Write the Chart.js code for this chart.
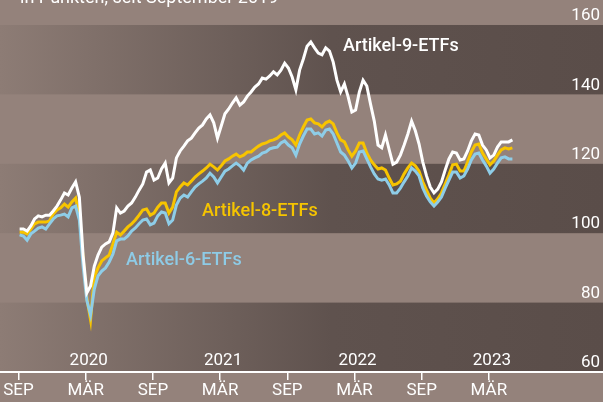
<!DOCTYPE html>
<html>
<head>
<meta charset="utf-8">
<script src="https://cdn.jsdelivr.net/npm/chart.js@4.4.0/dist/chart.umd.min.js"></script>
<style>
  html, body { margin: 0; padding: 0; background: #94827b; }
  #wrap { width: 603px; height: 402px; }
</style>
</head>
<body>
<div id="wrap"><canvas id="chart" width="603" height="402"></canvas></div>
<script>
/* Zeitachse: Monate seit Anfang September 2019, ein Wert alle 1/3 Monat */
var startMonat = 0.1;
var schritt = 1 / 3;

/* Indexwerte in Punkten */
var artikel9 = [
  101.2, 101.2, 100.6, 102.1, 104.1, 105.0, 104.7, 105.2, 105.2, 106.4,
  107.8, 109.6, 111.6, 111.0, 113.0, 114.8, 110.4, 93.7, 82.8, 84.8,
  90.5, 93.7, 96.0, 96.9, 97.5, 100.1, 107.3, 105.8, 106.4, 107.8,
  108.7, 110.4, 112.4, 114.2, 117.6, 118.2, 115.3, 115.9, 118.5, 120.2,
  114.5, 115.9, 121.7, 123.7, 125.1, 126.6, 127.4, 128.9, 130.3, 131.2,
  132.9, 134.1, 131.8, 127.4, 130.9, 134.4, 135.8, 137.5, 139.0, 136.9,
  137.8, 139.5, 140.7, 142.1, 143.0, 144.7, 144.4, 145.3, 146.5, 145.6,
  147.0, 149.0, 147.6, 145.0, 141.3, 147.0, 150.2, 153.9, 155.1, 153.4,
  151.9, 151.4, 153.4, 152.5, 149.3, 144.1, 140.7, 143.0, 139.3, 134.9,
  135.5, 140.7, 144.1, 142.4, 137.2, 132.3, 125.4, 124.6, 128.3, 124.0,
  119.9, 120.5, 122.5, 125.4, 128.6, 132.3, 129.5, 125.7, 120.5, 116.5,
  113.3, 111.6, 112.7, 114.8, 118.2, 121.4, 123.4, 123.1, 121.1, 121.4,
  123.7, 126.6, 128.6, 128.3, 125.4, 124.0, 121.7, 122.5, 124.8, 126.3,
  126.3, 126.3, 126.9
];
var artikel8 = [
  100.3, 100.3, 99.8, 101.2, 102.7, 103.2, 103.2, 103.2, 103.5, 105.5,
  106.7, 107.3, 108.4, 107.5, 109.0, 110.1, 105.2, 92.9, 81.3, 75.0,
  87.4, 90.0, 92.0, 92.9, 93.7, 96.9, 100.3, 99.5, 100.6, 101.8,
  102.7, 103.8, 105.2, 106.7, 107.0, 105.2, 105.8, 107.5, 108.7, 108.7,
  105.8, 107.5, 111.9, 113.3, 114.5, 113.9, 115.0, 116.2, 117.1, 117.9,
  118.8, 119.9, 119.1, 118.2, 119.4, 120.8, 121.4, 122.2, 122.8, 122.0,
  122.5, 123.4, 123.4, 124.3, 125.1, 125.7, 126.0, 126.6, 126.9, 127.4,
  128.3, 128.9, 127.7, 126.9, 125.4, 128.3, 130.6, 132.6, 132.9, 131.8,
  131.5, 130.6, 131.8, 132.3, 131.5, 128.9, 126.9, 126.3, 124.0, 122.2,
  123.7, 126.0, 126.0, 123.1, 121.1, 119.7, 118.5, 118.8, 118.2, 115.9,
  113.9, 114.2, 115.0, 117.1, 118.8, 120.2, 119.4, 117.9, 114.8, 112.4,
  110.1, 108.7, 109.9, 111.6, 114.2, 116.8, 119.7, 119.9, 117.9, 117.9,
  120.5, 123.4, 125.4, 125.7, 123.1, 121.4, 119.7, 120.8, 122.5, 124.0,
  124.6, 124.3, 124.6
];
var artikel6 = [
  99.5, 99.2, 98.0, 99.8, 100.6, 101.5, 101.8, 101.2, 102.7, 104.1,
  105.0, 105.2, 105.5, 104.7, 107.3, 107.8, 103.8, 90.5, 80.7, 76.4,
  83.9, 87.7, 89.1, 90.0, 91.7, 94.0, 97.8, 98.3, 98.3, 99.2,
  100.6, 101.5, 102.7, 103.8, 104.1, 102.4, 102.9, 105.0, 106.1, 105.8,
  102.7, 103.8, 108.1, 110.1, 111.0, 110.4, 111.9, 113.3, 114.2, 115.0,
  115.9, 117.3, 116.2, 114.5, 116.2, 117.9, 118.5, 119.4, 120.2, 119.4,
  118.2, 120.2, 121.1, 121.7, 122.2, 123.1, 123.4, 124.3, 124.6, 124.8,
  126.0, 126.6, 125.4, 124.6, 122.5, 125.7, 128.0, 130.0, 130.0, 128.6,
  128.9, 128.0, 129.7, 130.0, 128.6, 126.0, 123.4, 122.5, 120.8, 118.8,
  120.2, 123.4, 123.7, 121.4, 119.1, 117.1, 115.6, 115.3, 115.6, 113.9,
  111.6, 111.6, 113.0, 114.8, 116.5, 118.8, 117.9, 116.5, 113.0, 110.7,
  109.0, 107.8, 109.0, 110.4, 113.0, 115.3, 117.6, 117.6, 115.9, 116.5,
  118.5, 121.1, 122.8, 123.1, 121.1, 119.4, 117.3, 118.5, 120.2, 121.7,
  122.0, 121.4, 121.4
];

var yTicks = [60, 80, 100, 120, 140, 160];
var monatTicks = [0, 6, 12, 18, 24, 30, 36, 42];
var monatLabels = ['SEP', 'MÄR', 'SEP', 'MÄR', 'SEP', 'MÄR', 'SEP', 'MÄR'];
var jahrTicks = [6, 18, 30, 42];
var jahrLabels = ['2020', '2021', '2022', '2023'];
var namen = ['Artikel-9-ETFs', 'Artikel-8-ETFs', 'Artikel-6-ETFs'];
var titel = 'in Punkten, seit September 2019';

var schrift = "Roboto, 'Noto Sans', sans-serif";
var hell = '#94827b';

function punkte(werte) {
  return werte.map(function (v, i) {
    return { x: startMonat + i * schritt, y: v };
  });
}

/* Hintergrund mit Streifen */
var streifen = {
  id: 'streifen',
  beforeDraw: function (chart) {
    var ctx = chart.ctx, y = chart.scales.y;
    ctx.save();
    ctx.fillStyle = hell;
    ctx.fillRect(0, 0, chart.width, chart.height);
    var grad = ctx.createLinearGradient(0, 0, chart.width, 0);
    grad.addColorStop(0, '#8d7c75');
    grad.addColorStop(0.55, '#5f524e');
    grad.addColorStop(1, '#5a4d49');
    ctx.fillStyle = grad;
    [[60, 80], [100, 120], [140, 160]].forEach(function (b) {
      var top = y.getPixelForValue(b[1]);
      var bot = y.getPixelForValue(b[0]);
      ctx.fillRect(0, top, chart.width, bot - top);
    });
    ctx.restore();
  }
};

/* Texte: Titel, Jahre, Reihennamen */
var texte = {
  id: 'texte',
  afterDraw: function (chart) {
    var ctx = chart.ctx, x = chart.scales.x, y = chart.scales.y;
    ctx.save();
    ctx.fillStyle = '#ffffff';
    ctx.font = '18px ' + schrift;
    ctx.textAlign = 'left';
    ctx.textBaseline = 'alphabetic';
    ctx.fillText(titel, 20, 3);

    ctx.font = '17px ' + schrift;
    ctx.textAlign = 'center';
    ctx.textBaseline = 'middle';
    jahrTicks.forEach(function (m, i) {
      ctx.fillText(jahrLabels[i], x.getPixelForValue(m) + 3, y.bottom - 11);
    });

    ctx.font = '500 18px ' + schrift;
    ctx.textAlign = 'left';
    ctx.fillStyle = '#ffffff';
    ctx.fillText(namen[0], 343, 46);
    ctx.fillStyle = '#f5c400';
    ctx.fillText(namen[1], 202, 211);
    ctx.fillStyle = '#8ecbe6';
    ctx.fillText(namen[2], 126, 260);
    ctx.restore();
  }
};

new Chart(document.getElementById('chart'), {
  type: 'line',
  data: {
    datasets: [
      { label: namen[0], data: punkte(artikel9), borderColor: '#ffffff', borderWidth: 3 },
      { label: namen[2], data: punkte(artikel6), borderColor: '#8ecde8', borderWidth: 3 },
      { label: namen[1], data: punkte(artikel8), borderColor: '#f7c400', borderWidth: 3 }
    ]
  },
  options: {
    responsive: false,
    animation: false,
    devicePixelRatio: 1,
    layout: { padding: 0 },
    elements: { point: { radius: 0 }, line: { tension: 0 } },
    plugins: { legend: { display: false }, tooltip: { enabled: false } },
    scales: {
      x: {
        type: 'linear',
        min: -1.652,
        max: 52.19,
        afterBuildTicks: function (s) { s.ticks = monatTicks.map(function (v) { return { value: v }; }); },
        afterFit: function (s) { s.height = 30; s.paddingLeft = 0; s.paddingRight = 0; },
        ticks: {
          autoSkip: false,
          maxRotation: 0,
          padding: 1,
          color: '#ffffff',
          font: { family: schrift, size: 17 },
          callback: function (v, i) { return monatLabels[i]; }
        },
        grid: { drawOnChartArea: false, drawTicks: true, tickLength: 8, color: '#ffffff', lineWidth: 1.5 },
        border: { display: true, color: '#ffffff', width: 2 }
      },
      y: {
        position: 'right',
        min: 60,
        max: 167.2,
        afterBuildTicks: function (s) { s.ticks = yTicks.map(function (v) { return { value: v }; }); },
        afterFit: function (s) { s.width = 0; s.paddingTop = 0; s.paddingBottom = 0; },
        ticks: {
          mirror: true,
          padding: -3,
          labelOffset: -9,
          color: '#ffffff',
          font: { family: schrift, size: 17 }
        },
        grid: { display: false },
        border: { display: false }
      }
    }
  },
  plugins: [streifen, texte]
});
</script>
</body>
</html>
